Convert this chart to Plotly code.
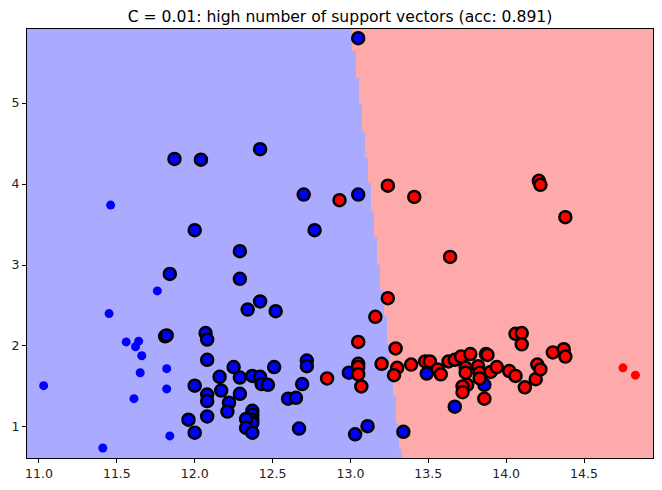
import numpy as np
import plotly.graph_objects as go

# plain training points (not support vectors)
blue_x = [11.03, 11.41, 11.45, 11.46, 11.56, 11.62, 11.64, 11.66, 11.65, 11.61, 11.76, 11.82, 11.82, 11.84]
blue_y = [1.51, 0.74, 2.40, 3.74, 2.05, 1.99, 2.06, 1.88, 1.67, 1.35, 2.68, 1.72, 1.47, 0.89]
red_x = [14.75, 14.83]
red_y = [1.73, 1.64]

# support vectors, class 0 (blue)
sv_blue_x = [11.87, 12.04, 12.42, 12.70, 12.00, 12.77, 12.29, 11.84, 12.29, 12.42, 12.34, 12.52,
             11.81, 11.82, 12.07, 12.08, 12.08, 12.25, 12.29, 12.16, 12.17, 12.00, 12.08, 12.08,
             12.08, 11.96, 12.00, 12.22, 12.21, 12.29, 12.37, 12.42, 12.43, 12.47, 12.51, 12.37,
             12.37, 12.37, 12.37, 12.33, 12.33, 12.37, 12.60, 12.65, 12.69, 12.72, 12.72, 12.67,
             13.05, 13.05, 12.99, 13.49, 13.86, 13.67, 13.03, 13.11, 13.34]
sv_blue_y = [4.31, 4.30, 4.43, 3.87, 3.43, 3.43, 3.17, 2.89, 2.83, 2.55, 2.45, 2.43,
             2.12, 2.13, 2.16, 2.08, 1.83, 1.74, 1.61, 1.62, 1.45, 1.51, 1.40, 1.32,
             1.13, 1.09, 0.93, 1.30, 1.19, 1.41, 1.63, 1.62, 1.53, 1.52, 1.74, 1.20,
             1.15, 1.09, 1.05, 1.10, 0.99, 0.93, 1.35, 1.36, 1.53, 1.82, 1.75, 0.98,
             5.80, 3.87, 1.67, 1.66, 1.52, 1.25, 0.91, 1.01, 0.94]

# support vectors, class 1 (red)
sv_red_x = [12.85, 12.93, 13.24, 13.41, 14.21, 14.22, 14.38, 13.64, 13.24, 13.16, 13.05, 13.29,
            13.20, 13.05, 13.05, 13.05, 13.07, 13.30, 13.28, 13.39, 13.48, 13.51, 13.56, 13.58,
            13.63, 13.67, 13.71, 13.77, 13.74, 13.74, 13.75, 13.72, 13.72, 13.82, 13.83, 13.83,
            13.86, 13.87, 13.88, 13.90, 13.94, 14.02, 14.06, 14.06, 14.10, 14.10, 14.12, 14.19,
            14.20, 14.22, 14.30, 14.37, 14.38]
sv_red_y = [1.60, 3.80, 3.98, 3.84, 4.04, 3.99, 3.59, 3.10, 2.59, 2.36, 2.05, 1.97,
            1.78, 1.78, 1.74, 1.65, 1.50, 1.73, 1.64, 1.77, 1.81, 1.81, 1.71, 1.65,
            1.81, 1.83, 1.87, 1.90, 1.73, 1.67, 1.52, 1.50, 1.43, 1.75, 1.67, 1.60,
            1.35, 1.90, 1.89, 1.68, 1.74, 1.69, 1.63, 2.15, 2.16, 2.02, 1.49, 1.59,
            1.77, 1.71, 1.92, 1.96, 1.87]

# linear decision function: x + w_y * y + b > 0 -> red
w_y = 0.061
b = -13.367
h = 0.02
x_min, x_max = 10.923, 14.943
y_min, y_max = 0.617, 5.914

gx = np.arange(x_min, x_max + h, h)
gy = np.arange(y_min, y_max + h, h)
xx, yy = np.meshgrid(gx, gy)
zz = (xx + w_y * yy + b > 0).astype(int)

fig = go.Figure()
fig.add_trace(go.Heatmap(
    x=gx, y=gy, z=zz, zmin=0, zmax=1, showscale=False, hoverinfo="skip",
    colorscale=[[0, "#AAAAFF"], [0.5, "#AAAAFF"], [0.5, "#FFAAAA"], [1, "#FFAAAA"]],
))
fig.add_trace(go.Scatter(x=blue_x, y=blue_y, mode="markers",
                         marker=dict(size=9, color="#0000FF")))
fig.add_trace(go.Scatter(x=red_x, y=red_y, mode="markers",
                         marker=dict(size=9, color="#FF0000")))
fig.add_trace(go.Scatter(x=sv_blue_x, y=sv_blue_y, mode="markers",
                         marker=dict(size=12, color="#0000FF", line=dict(color="black", width=2.5))))
fig.add_trace(go.Scatter(x=sv_red_x, y=sv_red_y, mode="markers",
                         marker=dict(size=12, color="#FF0000", line=dict(color="black", width=2.5))))

axis_style = dict(showline=True, linecolor="black", linewidth=1, mirror=True,
                  ticks="outside", ticklen=4, tickcolor="black", showgrid=False,
                  zeroline=False, automargin=False,
                  tickfont=dict(family="DejaVu Sans", size=12.5, color="#222"))

# the page adds an 8px body margin, so the figure is sized to fit inside the window
fig.update_layout(
    width=654, height=482, autosize=False,
    margin=dict(l=19, r=9, t=21, b=32),
    paper_bgcolor="white", plot_bgcolor="white",
    showlegend=False,
    title=dict(text="C = 0.01: high number of support vectors (acc: 0.891)",
               x=0.5, xref="paper", y=1 - 9 / 482, yref="container", yanchor="middle",
               font=dict(family="DejaVu Sans", size=15.6, color="black")),
    xaxis=dict(range=[x_min, x_max], dtick=0.5, tick0=11, tickformat=".1f", **axis_style),
    yaxis=dict(range=[y_min, y_max], dtick=1, tick0=1, **axis_style),
)

fig.write_html("out.html")
